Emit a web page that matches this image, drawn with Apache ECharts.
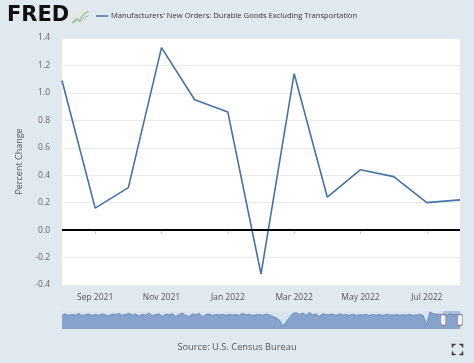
<!DOCTYPE html>
<html>
<head>
<meta charset="utf-8">
<script src="https://cdn.jsdelivr.net/npm/echarts@6/dist/echarts.min.js"></script>
<style>
html,body{margin:0;padding:0;background:#e1e9f0;}
#c{width:474px;height:363px;}
</style>
</head>
<body>
<div id="c"></div>
<script>
var seriesName = "Manufacturers' New Orders: Durable Goods Excluding Transportation";
var months = ["Aug 2021","Sep 2021","Oct 2021","Nov 2021","Dec 2021","Jan 2022","Feb 2022","Mar 2022","Apr 2022","May 2022","Jun 2022","Jul 2022","Aug 2022"];
var values = [1.09,0.16,0.31,1.33,0.95,0.86,-0.32,1.14,0.24,0.44,0.39,0.20,0.22];
var yTicks = {min:-0.4, max:1.4, interval:0.2};
// long-history navigator preview (coarse reading of the overview strip)
var navValues = [
0.5,1.2,0.2,0.9,0.4,1.4,0.1,0.8,1.1,0.3,
1.0,0.2,1.3,0.6,0.0,1.1,0.7,1.5,0.3,0.9,
1.6,0.4,1.2,-0.2,1.0,0.5,1.7,0.1,0.8,1.3,
-0.3,1.0,0.6,1.4,-0.5,0.9,1.8,0.2,-0.4,1.1,
0.7,1.5,-0.6,0.8,1.2,0.3,0.9,0.6,1.0,0.4,
0.8,0.5,0.9,0.3,1.7,0.6,1.0,0.2,0.7,0.9,
0.4,1.1,0.6,-0.3,-1.2,-2.5,-6.2,-3.8,-1.0,1.5,
2.0,0.8,1.8,0.3,2.1,0.5,1.2,-0.4,1.4,0.6,
0.9,1.1,0.2,1.3,0.5,0.8,0.4,1.0,0.3,0.7,
0.6,0.9,0.2,0.8,0.5,0.7,0.3,0.9,0.6,0.5,
0.8,0.4,0.7,0.5,0.9,0.3,0.6,0.8,0.2,-5.4,
2.4,1.3,1.1,0.8,0.6,0.3,1.2,0.6,0.9,0.4
];
var navWindow = [114, 119];
var sourceText = "Source: U.S. Census Bureau";

var navIdx = navValues.map(function(_, i){ return i; });
var font = '"Open Sans", "DejaVu Sans", sans-serif';

var chart = echarts.init(document.getElementById('c'), null, {renderer:'canvas'});
chart.setOption({
  backgroundColor: '#e1e9f0',
  animation: false,
  textStyle: {fontFamily: font},
  legend: {
    left: 91, top: 7,
    icon: 'rect', itemWidth: 12, itemHeight: 1.5, itemGap: 3,
    textStyle: {fontSize: 7.6, color: '#333', fontFamily: font, padding: [0,0,0,-2]},
    data: [seriesName],
    selectedMode: false
  },
  grid: [
    {left: 62, right: 14, top: 38, bottom: 78, show: true, backgroundColor: '#ffffff', borderWidth: 0},
    {left: 62, right: 14, top: 311, height: 18, show: true, backgroundColor: '#d9e3ee', borderWidth: 0}
  ],
  xAxis: [
    {
      type: 'category', gridIndex: 0, data: months, boundaryGap: false,
      axisLine: {show: false},
      axisTick: {show: true, length: 4, lineStyle: {color: '#c8cfd6'},
        interval: function(i){ return i % 2 === 1; }},
      axisLabel: {color: '#555', fontSize: 8.5, margin: 8, fontFamily: font,
        interval: function(i){ return i % 2 === 1; }},
      splitLine: {show: false}
    },
    {
      type: 'category', gridIndex: 1, data: navIdx, boundaryGap: false,
      show: false
    }
  ],
  yAxis: [
    {
      type: 'value', gridIndex: 0, min: yTicks.min, max: yTicks.max, interval: yTicks.interval,
      name: 'Percent Change', nameLocation: 'middle', nameGap: 38,
      nameTextStyle: {color: '#555', fontSize: 9, fontFamily: font},
      axisLine: {show: false}, axisTick: {show: false},
      axisLabel: {color: '#666', fontSize: 8.5, margin: 12, fontFamily: font,
        formatter: function(v){ return v.toFixed(1); }},
      splitLine: {lineStyle: {color: '#ebebeb', width: 1}}
    },
    {
      type: 'value', gridIndex: 1, min: -8, max: 3, show: false
    }
  ],
  series: [
    {
      name: seriesName, type: 'line', xAxisIndex: 0, yAxisIndex: 0,
      data: values, showSymbol: false, symbol: 'none',
      lineStyle: {color: '#4572a7', width: 1.6},
      itemStyle: {color: '#4572a7'},
      markLine: {
        silent: true, symbol: 'none', label: {show: false},
        lineStyle: {color: '#000', width: 2, type: 'solid'},
        data: [{yAxis: 0}]
      },
      z: 3
    },
    {
      name: 'nav', type: 'line', xAxisIndex: 1, yAxisIndex: 1,
      data: navValues, showSymbol: false, symbol: 'none',
      lineStyle: {color: '#5b7fb5', width: 0.8},
      areaStyle: {color: '#87a3cd', opacity: 1, origin: 'start'},
      markArea: {
        silent: true,
        itemStyle: {color: 'rgba(90,125,185,0.35)'},
        data: [[{xAxis: navWindow[0]}, {xAxis: navWindow[1]}]]
      },
      markPoint: {
        silent: true, symbol: 'roundRect', symbolSize: [5, 11],
        label: {show: false},
        itemStyle: {color: '#f4f4f4', borderColor: '#8a8a8a', borderWidth: 1},
        data: [{coord: [navWindow[0], -2.5]}, {coord: [navWindow[1] - 0.3, -2.5]}]
      }
    }
  ],
  graphic: [
    {type: 'text', left: 7, top: 5, style: {text: 'FRED', fill: '#111', font: '900 21px "DejaVu Sans", sans-serif'}},
    {type: 'group', left: 70, top: 9, children: [
      {type: 'rect', shape: {x: 0, y: 0, width: 18, height: 15}, style: {fill: '#e3e8e6'}},
      {type: 'polyline', shape: {points: [[1,13],[5,9],[8,11],[12,5],[17,2]]}, style: {stroke: '#8fbf8a', lineWidth: 1.2, fill: null}},
      {type: 'polyline', shape: {points: [[1,14],[5,11],[9,12],[13,8],[17,6]]}, style: {stroke: '#9fb5c8', lineWidth: 1, fill: null}}
    ]},
    {type: 'text', left: 'center', top: 343, style: {text: sourceText, fill: '#555', font: '9.3px ' + font}},
    {type: 'group', left: 450, top: 342, children: [
      {type: 'polyline', shape: {points: [[0,3],[0,0],[3,0]]}, style: {stroke: '#333', lineWidth: 1.5, fill: null}},
      {type: 'polyline', shape: {points: [[7,0],[10,0],[10,3]]}, style: {stroke: '#333', lineWidth: 1.5, fill: null}},
      {type: 'polyline', shape: {points: [[0,7],[0,10],[3,10]]}, style: {stroke: '#333', lineWidth: 1.5, fill: null}},
      {type: 'polyline', shape: {points: [[7,10],[10,10],[10,7]]}, style: {stroke: '#333', lineWidth: 1.5, fill: null}}
    ]}
  ]
});
</script>
</body>
</html>
